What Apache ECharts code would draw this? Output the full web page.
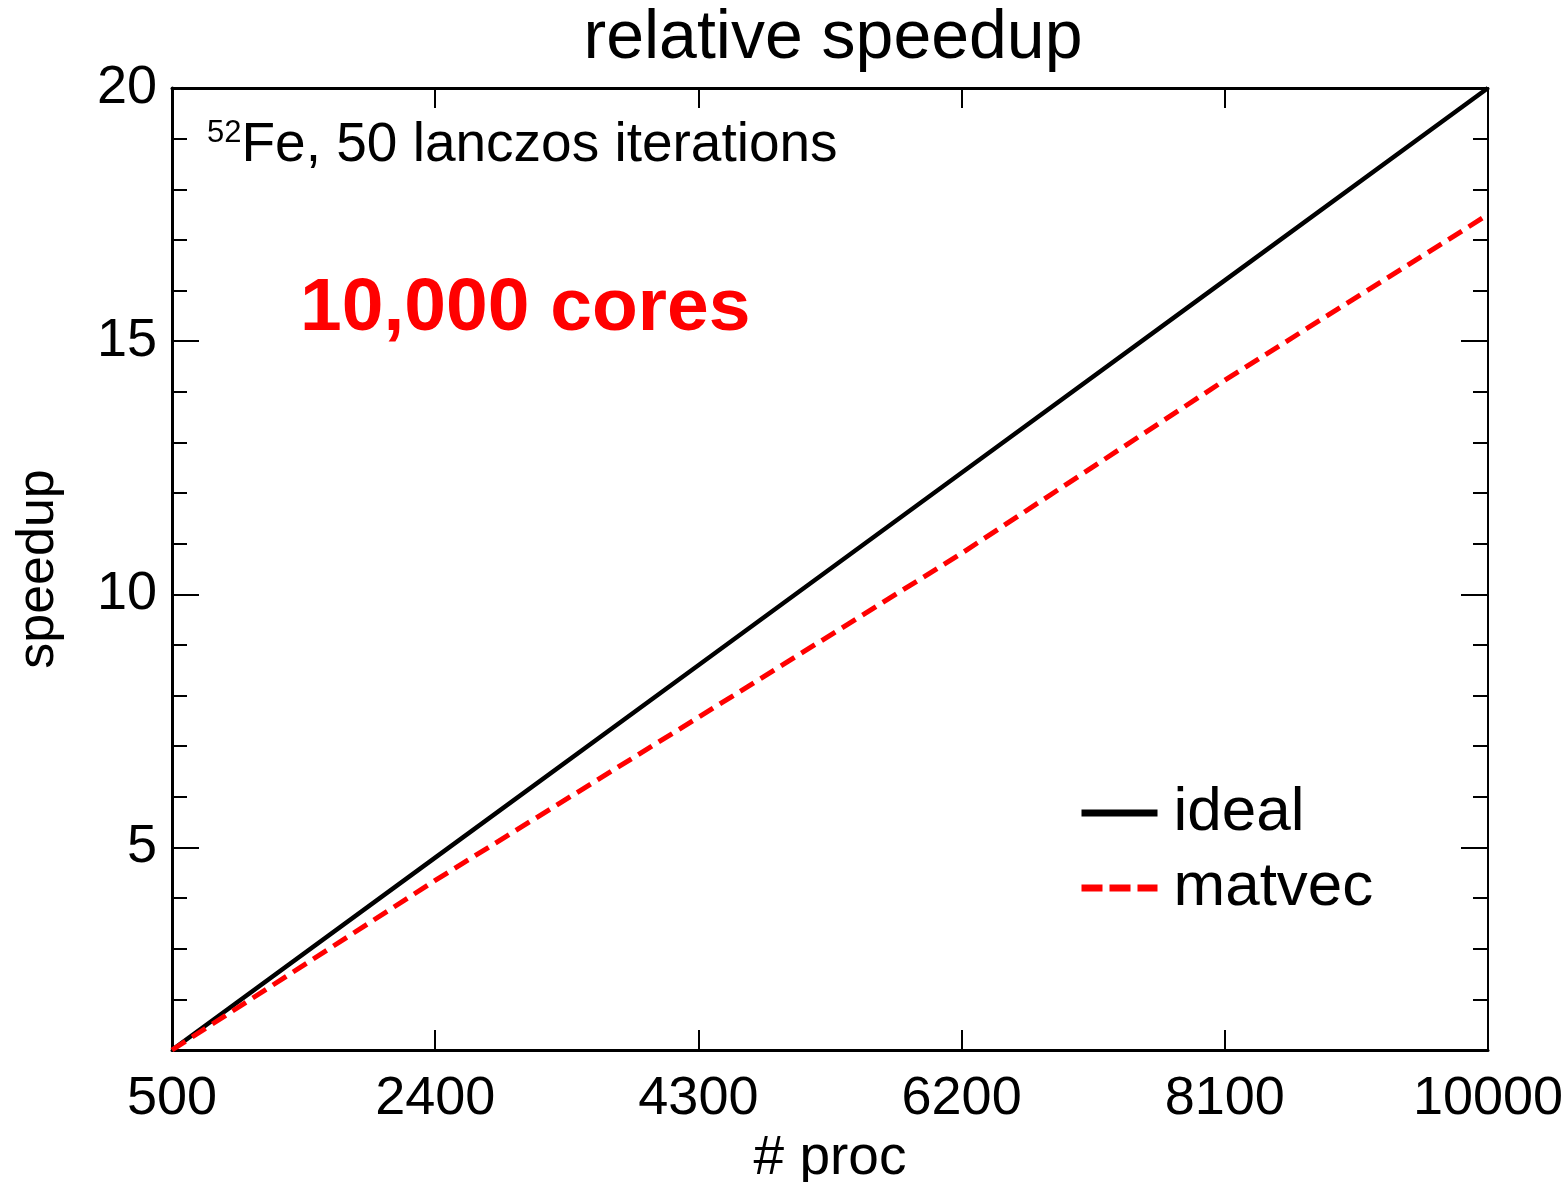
<!DOCTYPE html>
<html>
<head>
<meta charset="utf-8">
<title>relative speedup</title>
<script src="https://cdn.jsdelivr.net/npm/echarts@6/dist/echarts.min.js"></script>
<style>
  html, body { margin: 0; padding: 0; background: #fff; }
  #container { width: 1566px; height: 1182px; }
</style>
</head>
<body>
<div id="container"></div>
<script>
// # proc on the x axis
var procs = ['500', '2400', '4300', '6200', '8100', '10000'];
// speedup values
var ideal = [1, 4.8, 8.6, 12.4, 16.2, 20];
var matvec = [1, 4.35, 7.57, 10.81, 14.23, 17.5];
// y ticks
var yMajorTicks = [5, 10, 15, 20];
var yMinorTicks = [2, 3, 4, 6, 7, 8, 9, 11, 12, 13, 14, 16, 17, 18, 19];

var FONT = 'Liberation Sans, Arial, sans-serif';

var dom = document.getElementById('container');
var myChart = echarts.init(dom);

function yAxisCfg(position, ticks, len, withLabels) {
  return {
    type: 'value',
    position: position,
    min: 1,
    max: 20,
    splitLine: {show: false},
    axisLine: {show: withLabels, lineStyle: {color: '#000', width: 3}},
    axisTick: {show: true, inside: true, length: len, customValues: ticks, lineStyle: {color: '#000', width: 2}},
    axisLabel: {show: withLabels && position === 'left', customValues: yMajorTicks, margin: 15,
      color: '#000', fontSize: 54, fontFamily: FONT}
  };
}

var left = yAxisCfg('left', yMajorTicks, 27, true);
left.name = 'speedup';
left.nameLocation = 'middle';
left.nameRotate = 90;
left.nameGap = 107;
left.nameTextStyle = {color: '#000', fontSize: 52, fontFamily: FONT};

var right = yAxisCfg('right', yMajorTicks, 27, true);
right.axisLine.lineStyle.width = 2;

option = {
  animation: false,
  backgroundColor: '#fff',
  title: {
    text: 'relative speedup',
    left: 828,
    textAlign: 'center',
    top: 0,
    textStyle: {color: '#000', fontSize: 68, fontWeight: 'normal', fontFamily: FONT}
  },
  grid: {left: 172, right: 78, top: 88, bottom: 132, outerBoundsMode: 'none', containLabel: false},
  legend: {
    orient: 'vertical',
    left: 1078,
    top: 782,
    padding: 0,
    itemWidth: 76,
    itemHeight: 14,
    itemGap: 13,
    itemStyle: {opacity: 0},
    lineStyle: {width: 7},
    textStyle: {color: '#000', fontSize: 62, lineHeight: 62, fontFamily: FONT, padding: [0, 0, 0, 11]},
    data: [
      {name: 'ideal', itemStyle: {opacity: 0}, lineStyle: {width: 7, color: '#000', type: 'solid'}},
      {name: 'matvec', itemStyle: {opacity: 0}, lineStyle: {width: 7, color: '#ff0000', type: [21, 7]}}
    ]
  },
  xAxis: [{
    type: 'category',
    position: 'bottom',
    data: procs,
    boundaryGap: false,
    name: '# proc',
    nameLocation: 'middle',
    nameGap: 81,
    nameTextStyle: {color: '#000', fontSize: 55, fontFamily: FONT},
    axisLine: {lineStyle: {color: '#000', width: 3}},
    axisTick: {inside: true, length: 20, lineStyle: {color: '#000', width: 2}},
    axisLabel: {color: '#000', fontSize: 54, fontFamily: FONT, margin: 22}
  }, {
    type: 'category',
    position: 'top',
    data: procs,
    boundaryGap: false,
    axisLine: {lineStyle: {color: '#000', width: 3}},
    axisTick: {inside: true, length: 20, lineStyle: {color: '#000', width: 2}},
    axisLabel: {show: false}
  }],
  yAxis: [
    left,
    yAxisCfg('left', yMinorTicks, 15, false),
    right,
    yAxisCfg('right', yMinorTicks, 15, false)
  ],
  graphic: [{
    type: 'text',
    left: 207,
    top: 118,
    style: {
      text: '{sup|52}Fe, 50 lanczos iterations',
      fill: '#000',
      font: '55px ' + FONT,
      rich: {
        sup: {fontSize: 31, fontFamily: FONT, verticalAlign: 'top', fill: '#000'}
      }
    }
  }, {
    type: 'text',
    left: 300,
    top: 272,
    style: {
      text: '10,000 cores',
      fill: '#ff0000',
      font: 'bold 75px ' + FONT
    }
  }],
  series: [{
    name: 'ideal',
    type: 'line',
    data: ideal,
    symbol: 'none',
    lineStyle: {color: '#000', width: 4.5},
    itemStyle: {color: '#000'},
    z: 3
  }, {
    name: 'matvec',
    type: 'line',
    data: matvec,
    symbol: 'none',
    lineStyle: {color: '#ff0000', width: 5, type: [16, 8]},
    itemStyle: {color: '#ff0000'},
    z: 4
  }]
};
myChart.setOption(option, true);
</script>
</body>
</html>
